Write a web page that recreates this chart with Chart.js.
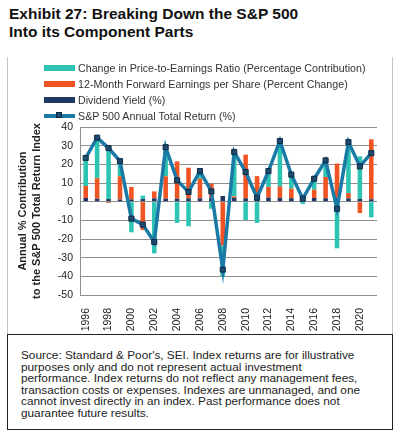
<!DOCTYPE html>
<html>
<head>
<meta charset="utf-8">
<script src="https://cdn.jsdelivr.net/npm/chart.js@4.4.0/dist/chart.umd.min.js"></script>
<style>
  body { margin:0; width:406px; height:437px; background:#fff; position:relative; overflow:hidden;
         font-family:"Liberation Sans", Arial, sans-serif; }
  #title { position:absolute; left:9px; top:5px; font-weight:bold; font-size:15.5px; line-height:18px; color:#111; white-space:nowrap; }
  #frame { position:absolute; left:7px; top:57px; width:384px; height:277px; border-left:1px solid #c4c4c4; border-right:1px solid #c4c4c4; }
  #legend { position:absolute; left:44px; top:60px; font-size:10.7px; color:#333; z-index:2; }
  .row { height:15.9px; display:flex; align-items:center; white-space:nowrap; }
  .sw { width:31px; height:6px; margin-right:3px; position:relative; }
  canvas { position:absolute; left:0; top:110px; }
  #source { position:absolute; left:7px; top:334px; width:386px; height:96px; border:1px solid #222; box-sizing:border-box;
            padding:15px 0 0 13px; font-size:11.8px; line-height:11.6px; color:#222; white-space:nowrap; }
</style>
</head>
<body>
<div id="title">Exhibit 27: Breaking Down the S&amp;P 500<br>Into its Component Parts</div>
<div id="frame"></div>
<div id="legend"></div>
<canvas id="chart" width="400" height="224"></canvas>
<div id="source">Source: Standard &amp; Poor's, SEI. Index returns are for illustrative<br>purposes only and do not represent actual investment<br>performance. Index returns do not reflect any management fees,<br>transaction costs or expenses. Indexes are unmanaged, and one<br>cannot invest directly in an index. Past performance does not<br>guarantee future results.</div>
<script>
const years = ['1996','1997','1998','1999','2000','2001','2002','2003','2004','2005','2006','2007','2008',
               '2009','2010','2011','2012','2013','2014','2015','2016','2017','2018','2019','2020','2021'];
const dividendYield = [2.0,1.6,1.4,1.2,1.2,1.4,1.8,1.6,1.6,1.8,1.8,1.9,3.0,2.0,1.8,2.0,2.2,2.0,1.9,2.1,2.0,1.8,2.1,1.8,1.5,1.3];
const epsChange = [6.4,11.0,-0.7,12.4,6.7,-15.2,3.7,12.0,20.0,16.4,10.5,7.7,-23.4,0.8,23.4,11.7,5.7,6.2,5.1,0.8,4.4,11.4,18.3,2.8,-6.1,32.1];
const peChange = [15.5,21.7,27.2,8.0,-16.4,1.8,-27.7,15.7,-11.4,-13.2,4.1,-3.8,-16.6,23.6,-9.8,-11.4,8.5,24.3,7.5,-1.3,5.9,8.9,-25.0,27.0,22.8,-8.4];
const totalReturn = [23.4,34.3,28.7,21.7,-9.1,-12.3,-21.6,29.2,11.4,5.2,16.4,5.5,-36.4,26.6,15.9,2.1,16.4,32.5,14.5,1.6,12.3,22.1,-3.8,31.9,18.9,26.0];

const teal = '#2ec4b3', orange = '#f05423', navy = '#1f3864', lineBlue = '#1a7aa5';
const fontFam = '"Liberation Sans", Arial, sans-serif';

// legend in the reference order
const legendItems = [
  ['Change in Price-to-Earnings Ratio (Percentage Contribution)', teal, 'bar'],
  ['12-Month Forward Earnings per Share (Percent Change)', orange, 'bar'],
  ['Dividend Yield (%)', navy, 'bar'],
  ['S&P 500 Annual Total Return (%)', lineBlue, 'line']
];
const legend = document.getElementById('legend');
legendItems.forEach(([txt, col, kind]) => {
  const row = document.createElement('div');
  row.className = 'row';
  const sw = document.createElement('div');
  sw.className = 'sw';
  if (kind === 'bar') {
    sw.style.background = col;
  } else {
    sw.style.height = '4px';
    sw.style.background = col;
    const mk = document.createElement('div');
    mk.style.cssText = 'position:absolute;left:12px;top:-2px;width:6px;height:6px;background:#1d4a6e;border:1px solid #0d2b45;box-sizing:border-box;';
    sw.appendChild(mk);
  }
  const t = document.createElement('span');
  t.textContent = txt;
  row.appendChild(sw);
  row.appendChild(t);
  legend.appendChild(row);
});

const barOpts = { type: 'bar', stack: 's', order: 1, categoryPercentage: 0.8, barPercentage: 0.5 };

new Chart(document.getElementById('chart'), {
  data: {
    labels: years,
    datasets: [
      Object.assign({ label: 'Dividend Yield (%)', data: dividendYield, backgroundColor: navy }, barOpts),
      Object.assign({ label: '12-Month Forward Earnings per Share (Percent Change)', data: epsChange, backgroundColor: orange }, barOpts),
      Object.assign({ label: 'Change in Price-to-Earnings Ratio (Percentage Contribution)', data: peChange, backgroundColor: teal }, barOpts),
      {
        type: 'line', label: 'S&P 500 Annual Total Return (%)', data: totalReturn, order: 0,
        borderColor: lineBlue, borderWidth: 3.5, tension: 0,
        pointStyle: 'rect', pointRadius: 3.6, pointBackgroundColor: '#1d4a6e',
        pointBorderColor: '#0d2b45', pointBorderWidth: 1
      }
    ]
  },
  options: {
    responsive: false,
    animation: false,
    devicePixelRatio: 1,
    layout: { padding: { top: 17, right: 23, left: 0, bottom: 0 } },
    plugins: { legend: { display: false }, tooltip: { enabled: false } },
    scales: {
      x: {
        stacked: true,
        grid: { display: false },
        border: { display: false },
        ticks: {
          autoSkip: false, minRotation: 90, maxRotation: 90, padding: 5,
          color: '#222', font: { family: fontFam, size: 10.5 },
          callback: function (v, i) { return i % 2 === 0 ? this.getLabelForValue(v) : ''; }
        },
        afterFit(s) { s.height = 39; }
      },
      y: {
        stacked: true,
        min: -50, max: 40,
        ticks: { stepSize: 10, padding: 7, color: '#222', font: { family: fontFam, size: 10.5 } },
        grid: { color: '#8f8f8f', drawTicks: false },
        border: { display: true, color: '#8f8f8f' },
        title: {
          display: true,
          text: ['Annual % Contribution', 'to the S&P 500 Total Return Index'],
          color: '#222',
          font: { family: fontFam, size: 11, weight: 'bold', lineHeight: 1.25 },
          padding: { top: 16, bottom: 0 }
        },
        afterFit(s) { s.width = 80; }
      }
    }
  }
});
</script>
</body>
</html>
